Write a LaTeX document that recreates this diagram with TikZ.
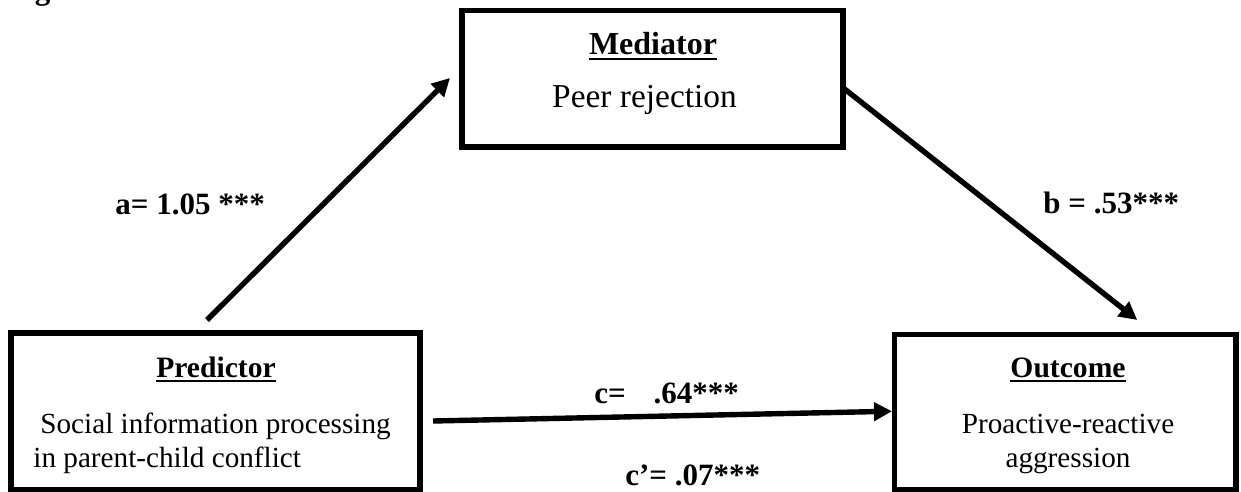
\documentclass[tikz,border=0pt]{standalone}
\usepackage{fontspec}
\setmainfont{Liberation Serif}
\usetikzlibrary{arrows.meta}
\newcommand\myul[1]{\setbox0\hbox{#1}\rlap{\rule[-0.17em]{\wd0}{0.065em}}\box0}
\tikzset{
  box/.style={draw, line width=2.7pt, outer sep=0pt, inner sep=0pt},
  arr/.style={line width=2.7pt, -{Triangle[length=9pt,width=9pt]}},
  lbl/.style={font=\fontsize{15.5}{18}\selectfont\bfseries, anchor=base west, inner sep=0pt},
  headA/.style={font=\fontsize{16}{19}\selectfont\bfseries, anchor=base, inner sep=0pt},
  textA/.style={font=\fontsize{16.7}{19}\selectfont, anchor=base, inner sep=0pt},
  headB/.style={font=\fontsize{14.8}{17}\selectfont\bfseries, anchor=base, inner sep=0pt},
  textB/.style={font=\fontsize{14.6}{17}\selectfont, inner sep=0pt},
}
\begin{document}
\begin{tikzpicture}[x=0.5pt,y=-0.5pt]
\useasboundingbox (0,0) rectangle (1241,492);
% partly visible caption
\node[font=\fontsize{15.5}{18}\selectfont\bfseries, anchor=base west, inner sep=0pt] (fig) at (7,-0.5) {Figure 1};
% boxes
\node[box, minimum width=190.5pt, minimum height=68.25pt] (med) at (652.5,78.75) {};
\node[box, minimum width=204.5pt, minimum height=78.5pt] (pred) at (215.5,411.5) {};
\node[box, minimum width=170.75pt, minimum height=77.75pt] (out) at (1065.25,412.25) {};
% mediator texts
\node[headA] (medh) at (653,55) {\myul{Mediator}};
\node[textA] (medt) at (644.5,108) {Peer rejection};
% predictor texts
\node[headB] (predh) at (216,377) {\myul{Predictor}};
\node[textB, anchor=base west] (predt1) at (40,433) {Social information processing};
\node[textB, anchor=base west] (predt2) at (33,467) {in parent-child conflict};
% outcome texts
\node[headB] (outh) at (1068,377) {\myul{Outcome}};
\node[textB, anchor=base] (outt1) at (1068,433) {Proactive-reactive};
\node[textB, anchor=base] (outt2) at (1068,467) {aggression};
% connectors
\draw[arr] ([xshift=-4.25pt,yshift=6.5pt]pred.north) -- ([xshift=-6pt,yshift=0.4pt]med.west);
\draw[arr] ([yshift=-4.5pt]med.east) -- ([xshift=36pt,yshift=7.25pt]out.north);
\draw[arr] ([xshift=6.5pt,yshift=-4.75pt]pred.east) -- ([xshift=-1.25pt,yshift=0.5pt]out.west);
% path labels
\node[lbl] (la) at (115,214) {a= 1.05 ***};
\node[lbl] (lb) at (1043,213) {b = .53***};
\node[lbl] (lc) at (594,403) {c=\hspace{0.9em}.64***};
\node[lbl] (lcp) at (625,485) {c’= .07***};
\end{tikzpicture}
\end{document}
